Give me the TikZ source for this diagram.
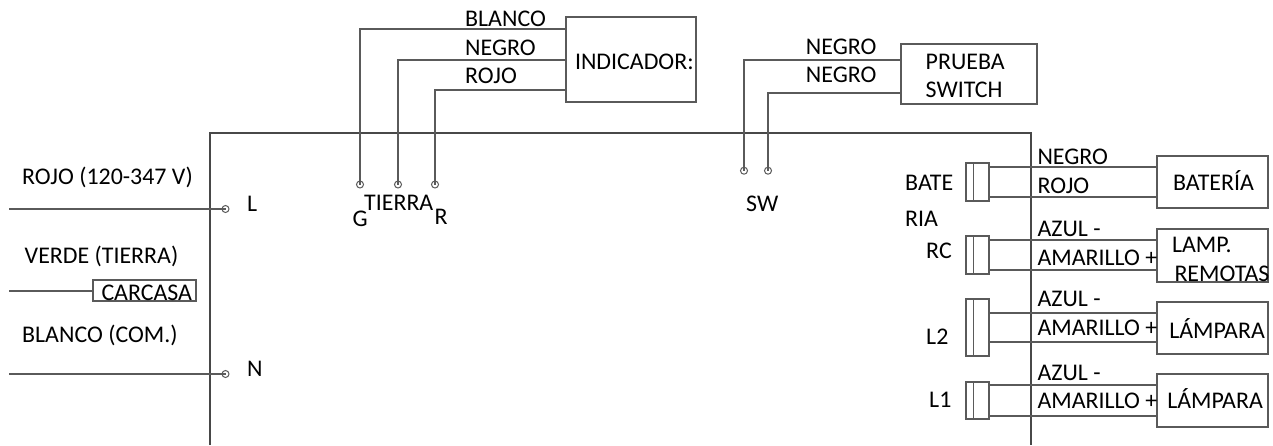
\documentclass[tikz,border=0pt]{standalone}
\usepackage{fontspec}
\setmainfont{Carlito}
\usetikzlibrary{calc}
\definecolor{wirec}{HTML}{5A5A5A}
\definecolor{framec}{HTML}{484848}
\newcommand{\bt}[3]{\raisebox{#2pt}[0pt][0pt]{\makebox[0pt][l]{\hspace*{#1pt}#3}}}
\tikzset{
  wire/.style={draw=wirec,line width=1.2pt},
  frameline/.style={draw=framec,line width=1.1pt},
  boxn/.style={draw=wirec,line width=1.1pt,rectangle,inner sep=0pt,text=black},
  connbox/.style={boxn,minimum width=23pt},
  term/.style={circle,draw=wirec,line width=1pt,minimum size=7pt,inner sep=0pt},
  lbl/.style={anchor=base west,inner sep=0pt,text=black,yshift=-0.7pt},
  every node/.append style={font=\fontsize{23.9pt}{26pt}\selectfont}
}
\begin{document}
\begin{tikzpicture}[x=1pt,y=-1pt]
\useasboundingbox (0,0) rectangle (1273,445);
\fill[white] (0,0) rectangle (1273,445);
% enclosure
\coordinate (fbl) at (210,445);
\coordinate (ftl) at (210,133);
\coordinate (ftr) at (1031,133);
\coordinate (fbr) at (1031,445);
\draw[frameline] (fbl) -- (ftl) -- (ftr) -- (fbr);
% terminals
\node[term] (tL) at (225.5,209) {};
\node[term] (tN) at (225.5,374) {};
\node[term] (tG) at (360,184.5) {};
\node[term] (tT) at (398,184.5) {};
\node[term] (tR) at (435,184.5) {};
\node[term] (tS1) at (744,170.7) {};
\node[term] (tS2) at (768,170.7) {};
% boxes
\node[boxn,minimum width=130pt,minimum height=85pt] (ind) at (631,59.5) {\bt{-56}{-10.2}{INDICADOR:}};
\node[boxn,minimum width=136pt,minimum height=60pt] (pru) at (969,74) {\bt{-43.3}{4.3}{PRUEBA}\bt{-43.3}{-23.4}{SWITCH}};
\node[boxn,minimum width=111pt,minimum height=52pt] (bat) at (1212.5,182) {\bt{-39.5}{-8.7}{BATERÍA}};
\node[boxn,minimum width=111pt,minimum height=53pt] (rem) at (1212.5,255.5) {\bt{-40.5}{3.1}{LAMP.}\bt{-38}{-25.9}{REMOTAS}};
\node[boxn,minimum width=111pt,minimum height=52pt] (lamB) at (1212.5,328) {\bt{-43.2}{-10.4}{LÁMPARA}};
\node[boxn,minimum width=111pt,minimum height=53pt] (lamA) at (1212.5,400.5) {\bt{-45.2}{-7.9}{LÁMPARA}};
\node[boxn,minimum width=103pt,minimum height=21pt] (car) at (144.5,290.5) {\bt{-43}{-10.2}{CARCASA}};
% connector blocks
\node[connbox,minimum height=38pt] (cB) at (977.5,182) {};
\node[connbox,minimum height=38pt] (cR) at (977.5,255) {};
\node[connbox,minimum height=57pt] (cL2) at (977.5,327.5) {};
\node[connbox,minimum height=37pt] (cL1) at (977.5,400.5) {};
\foreach \c in {cB,cR,cL2,cL1}
  \draw[wire] ($(\c.north west)+(8,0)$) -- ($(\c.south west)+(8,0)$);
% free wire ends and levels
\coordinate (eL) at (9,209);
\coordinate (eC) at (9,291);
\coordinate (eN) at (9,374);
\coordinate (y1) at (0,29);
\coordinate (y2) at (0,60);
\coordinate (y3) at (0,90);
\coordinate (y4) at (0,60);
\coordinate (y5) at (0,93);
\coordinate (b1) at (0,167);
\coordinate (b2) at (0,197);
\coordinate (r1) at (0,240);
\coordinate (r2) at (0,270);
\coordinate (m1) at (0,313);
\coordinate (m2) at (0,342);
\coordinate (n1) at (0,385);
\coordinate (n2) at (0,416);
% connectors
\draw[wire] (eL) -- (tL.center);
\draw[wire] (eN) -- (tN.center);
\draw[wire] (eC) -- (car.west |- eC);
\draw[wire] (tG.center) |- (ind.west |- y1);
\draw[wire] (tT.center) |- (ind.west |- y2);
\draw[wire] (tR.center) |- (ind.west |- y3);
\draw[wire] (tS1.center) |- (pru.west |- y4);
\draw[wire] (tS2.center) |- (pru.west |- y5);
\draw[wire] (cB.east |- b1) -- (bat.west |- b1);
\draw[wire] (cB.east |- b2) -- (bat.west |- b2);
\draw[wire] (cR.east |- r1) -- (rem.west |- r1);
\draw[wire] (cR.east |- r2) -- (rem.west |- r2);
\draw[wire] (cL2.east |- m1) -- (lamB.west |- m1);
\draw[wire] (cL2.east |- m2) -- (lamB.west |- m2);
\draw[wire] (cL1.east |- n1) -- (lamA.west |- n1);
\draw[wire] (cL1.east |- n2) -- (lamA.west |- n2);
% labels
\node[lbl] (a1) at (22,184) {ROJO (120-347 V)};
\node[lbl] (a2) at (24.5,262.7) {VERDE (TIERRA)};
\node[lbl] (a3) at (22,341.7) {BLANCO (COM.)};
\node[lbl] (a4) at (247,210.7) {L};
\node[lbl] (a5) at (247,376) {N};
\node[lbl] (a6) at (352.5,226) {G};
\node[lbl] (a7) at (364,209.3) {TIERRA};
\node[lbl] (a8) at (434.5,223.3) {R};
\node[lbl] (a9) at (465,26) {BLANCO};
\node[lbl] (a10) at (465,55) {NEGRO};
\node[lbl] (a11) at (465,82.7) {ROJO};
\node[lbl] (a12) at (805.7,54) {NEGRO};
\node[lbl] (a13) at (805.7,81.7) {NEGRO};
\node[lbl] (a14) at (746,211) {SW};
\node[lbl] (a15) at (905,189.3) {BATE};
\node[lbl] (a16) at (905,226) {RIA};
\node[lbl] (a17) at (926,257.3) {RC};
\node[lbl] (a18) at (926,343.3) {L2};
\node[lbl] (a19) at (929,406.7) {L1};
\node[lbl] (a20) at (1037.3,163.3) {NEGRO};
\node[lbl] (a21) at (1037.3,192.3) {ROJO};
\node[lbl] (a22) at (1037.3,236) {AZUL -};
\node[lbl] (a23) at (1037.3,264.3) {AMARILLO +};
\node[lbl] (a24) at (1037.3,306) {AZUL -};
\node[lbl] (a25) at (1037.3,335) {AMARILLO +};
\node[lbl] (a26) at (1037.3,380) {AZUL -};
\node[lbl] (a27) at (1037.3,407.7) {AMARILLO +};
\end{tikzpicture}
\end{document}
